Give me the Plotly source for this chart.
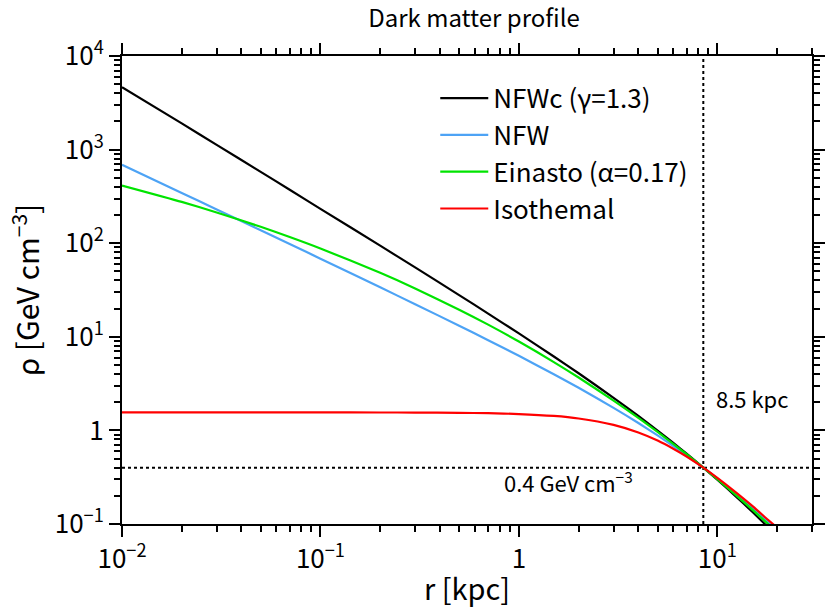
import numpy as np
import plotly.graph_objects as go

# radius samples [kpc]
r = [0.01, 0.02, 0.03, 0.05, 0.07, 0.1, 0.2, 0.3, 0.5, 0.7, 1, 1.5, 2, 3, 4, 5, 6, 7, 8.5, 10, 12, 15, 18, 20]

# density values [GeV cm^-3]
rho_nfwc = [4650, 1906, 1124, 578, 373, 233, 94.1, 55.1, 27.9, 17.7, 10.87, 6.16, 4.08, 2.23, 1.428, 0.997, 0.736, 0.565, 0.4, 0.297, 0.210, 0.135, 0.0926, 0.074]
rho_nfw = [690, 344.5, 229.5, 137.4, 97.9, 68.4, 33.8, 22.3, 13.14, 9.21, 6.26, 3.98, 2.853, 1.74, 1.199, 0.884, 0.681, 0.541, 0.4, 0.307, 0.2248, 0.150, 0.1063, 0.0863]
rho_ein = [413, 276, 212.9, 149.6, 116.4, 87.8, 48.3, 32.9, 19.5, 13.5, 8.9, 5.37, 3.67, 2.08, 1.36, 0.962, 0.718, 0.557, 0.4, 0.3006, 0.2164, 0.1425, 0.1002, 0.0813]
rho_iso = [1.556, 1.556, 1.556, 1.556, 1.555, 1.555, 1.554, 1.550, 1.541, 1.526, 1.496, 1.428, 1.341, 1.144, 0.949, 0.778, 0.637, 0.526, 0.4, 0.311, 0.230, 0.156, 0.111, 0.0915]

names = ["NFWc (γ=1.3)", "NFW", "Einasto (α=0.17)", "Isothemal"]
colors = ["#000000", "#4da3f5", "#00e400", "#ff0000"]

R_SUN = 8.5
RHO_LOCAL = 0.4
X_RANGE = [0.01, 30]
Y_RANGE = [0.1, 1e4]

x_tickvals = [0.01, 0.1, 1, 10]
x_ticktext = ["10<sup>−2</sup>", "10<sup>−1</sup>", "1", "10<sup>1</sup>"]
y_tickvals = [0.1, 1, 10, 100, 1000, 10000]
y_ticktext = ["10<sup>−1</sup>", "1", "10<sup>1</sup>", "10<sup>2</sup>", "10<sup>3</sup>", "10<sup>4</sup>"]

x_minor = [m * 10.0 ** e for e in range(-2, 2) for m in range(2, 10)]
y_minor = [m * 10.0 ** e for e in range(-1, 4) for m in range(2, 10)]

FONT = "Noto Sans CJK JP, DejaVu Sans, sans-serif"

fig = go.Figure()

# reference dashed lines
fig.add_trace(go.Scatter(x=[R_SUN, R_SUN], y=Y_RANGE, mode="lines",
                         line=dict(color="black", width=2, dash="3px,3px"),
                         showlegend=False, hoverinfo="skip"))
fig.add_trace(go.Scatter(x=X_RANGE, y=[RHO_LOCAL, RHO_LOCAL], mode="lines",
                         line=dict(color="black", width=2, dash="3px,3px"),
                         showlegend=False, hoverinfo="skip"))

for i, (nm, ys, c) in enumerate(zip(names, [rho_nfwc, rho_nfw, rho_ein, rho_iso], colors)):
    fig.add_trace(go.Scatter(x=r, y=ys, mode="lines", name=nm, legendgroup=str(i),
                             line=dict(color=c, width=2.2, shape="spline", smoothing=0.6)))

axis_common = dict(type="log", showline=True, linecolor="black", linewidth=2,
                   mirror="ticks", ticks="outside", ticklen=11, tickwidth=2,
                   tickcolor="black", showgrid=False, zeroline=False,
                   tickfont=dict(family=FONT, size=26, color="black"))

fig.update_xaxes(range=[np.log10(X_RANGE[0]), np.log10(X_RANGE[1])],
                 tickvals=x_tickvals, ticktext=x_ticktext,
                 minor=dict(tickmode="array", tickvals=x_minor, ticks="outside", ticklen=6,
                            tickwidth=1.5, tickcolor="black", showgrid=False),
                 title=dict(text="r [kpc]", font=dict(family=FONT, size=29, color="black"), standoff=8),
                 **axis_common)
fig.update_yaxes(range=[np.log10(Y_RANGE[0]), np.log10(Y_RANGE[1])],
                 tickvals=y_tickvals, ticktext=y_ticktext,
                 minor=dict(tickmode="array", tickvals=y_minor, ticks="outside", ticklen=6,
                            tickwidth=1.5, tickcolor="black", showgrid=False),
                 title=dict(text="ρ [GeV cm<sup>−3</sup>]", font=dict(family=FONT, size=30, color="black"), standoff=6),
                 **axis_common)

fig.add_annotation(x=np.log10(R_SUN) + 0.054, y=0.35, text="8.5 kpc", showarrow=False,
                   xanchor="left", yanchor="middle", font=dict(family=FONT, size=22, color="black"))
fig.add_annotation(x=0.2525, y=-0.55, text="0.4 GeV cm<sup>−3</sup>", showarrow=False,
                   xanchor="center", yanchor="middle", font=dict(family=FONT, size=22, color="black"))

fig.update_layout(
    width=829, height=608,
    margin=dict(l=122, r=4, t=56, b=84),
    paper_bgcolor="white", plot_bgcolor="white",
    title=dict(text="Dark matter profile", x=474 / 829, xanchor="center",
               y=1 - 19 / 608, yanchor="middle", font=dict(family=FONT, size=24, color="black")),
    legend=dict(x=0.454, y=0.96, xanchor="left", yanchor="top", bgcolor="rgba(0,0,0,0)",
                font=dict(family=FONT, size=26, color="black"), tracegroupgap=0,
                itemwidth=48),
)

fig.write_html("out.html")
